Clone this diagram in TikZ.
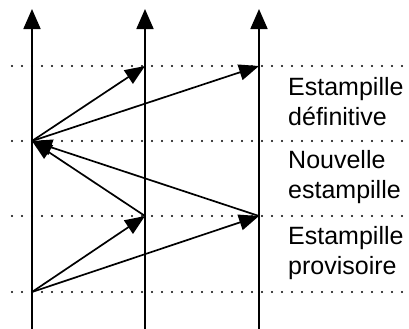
\documentclass[tikz,border=0pt]{standalone}
\usepackage{fontspec}
\setmainfont{Liberation Sans}
\usetikzlibrary{arrows.meta}
\begin{document}
\begin{tikzpicture}[x=1bp,y=-1bp,
  timeline/.style={line width=1.8bp,-{Triangle[length=20bp,width=17bp]}},
  msg/.style={line width=1.7bp,-{Triangle[length=20bp,width=16bp]}},
  level/.style={line width=2.4bp,line cap=round,dash pattern=on 0bp off 10bp},
  caption/.style={anchor=west,align=left,inner sep=0pt,
    font=\fontsize{25bp}{30bp}\selectfont}]
  \useasboundingbox (0,0) rectangle (409,329);
  % process time lines
  \coordinate (b1) at (32,329);  \coordinate (t1) at (32,9);
  \coordinate (b2) at (145,329); \coordinate (t2) at (145,9);
  \coordinate (b3) at (259,329); \coordinate (t3) at (259,9);
  % dotted levels
  \foreach \y/\n in {66/l1,141/l2,216/l3,292/l4}{
    \coordinate (\n w) at (12,\y);
    \coordinate (\n e) at (409,\y);
  }
  \foreach \n in {l1,l2,l3,l4}
    \draw[level] (\n w) -- (\n e);
  \draw[timeline] (b1) -- (t1);
  \draw[timeline] (b2) -- (t2);
  \draw[timeline] (b3) -- (t3);
  % events
  \coordinate (p0) at (32,292);
  \coordinate (a2) at (145,216);
  \coordinate (a3) at (259,216);
  \coordinate (n1) at (32,141);
  \coordinate (d2) at (145,66);
  \coordinate (d3) at (259,66);
  % messages
  \draw[msg] (p0) -- (a2);
  \draw[msg] (p0) -- (a3);
  \draw[msg] (a2) -- (n1);
  \draw[msg] (a3) -- (n1);
  \draw[msg] (n1) -- (d2);
  \draw[msg] (n1) -- (d3);
  % captions
  \node[caption] (cdef) at (288,102) {Estampille\\définitive};
  \node[caption] (cnew) at (288,177) {Nouvelle\\estampille};
  \node[caption] (cpro) at (288,253) {Estampille\\provisoire};
\end{tikzpicture}
\end{document}
